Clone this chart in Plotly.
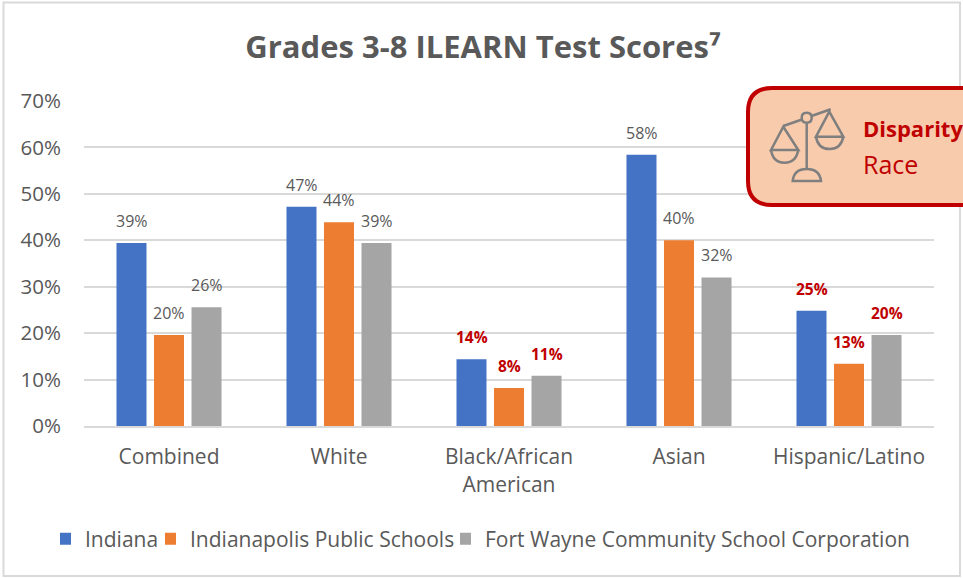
import plotly.graph_objects as go

W, H = 963, 578
PL, PR, PT, PB = 84, 934, 101, 426

categories = ["Combined", "White", "Black/African<br>American", "Asian", "Hispanic/Latino"]
indiana = [39.4, 47.2, 14.4, 58.4, 24.8]
ips = [19.6, 43.9, 8.2, 40.0, 13.4]
fort_wayne = [25.6, 39.4, 10.8, 32.0, 19.6]
indiana_labels = ["39%", "47%", "14%", "58%", "25%"]
ips_labels = ["20%", "44%", "8%", "40%", "13%"]
fort_wayne_labels = ["26%", "39%", "11%", "32%", "20%"]
highlighted = ["Black/African<br>American", "Hispanic/Latino"]
y_ticks = [0, 10, 20, 30, 40, 50, 60, 70]

FONT = "Open Sans"
GREY = "#595959"
RED = "#C00000"
ICON = "#7F7F7F"


def px(x):
    return (x - PL) / (PR - PL)


def py(y):
    return (PB - y) / (PB - PT)


def path(*cmds):
    out = []
    for c in cmds:
        if isinstance(c, str):
            out.append(c)
        else:
            out.append(f"{px(c[0]):.5f},{py(c[1]):.5f}")
    return " ".join(out)


fig = go.Figure()
series = [
    ("Indiana", indiana, indiana_labels, "#4472C4", -37.5, "legend", 60),
    ("Indianapolis Public Schools", ips, ips_labels, "#ED7D31", 0, "legend2", 165),
    ("Fort Wayne Community School Corporation", fort_wayne, fort_wayne_labels, "#A5A5A5", 37.5, "legend3", 460),
]
annotations = []
legends = {}
for name, vals, labels, color, shift, leg, leg_x in series:
    fig.add_trace(go.Bar(name=name, x=categories, y=vals, marker=dict(color=color, line_width=0),
                         hoverinfo="skip", legend=leg, showlegend=True))
    legends[leg] = dict(orientation="h", x=px(leg_x), xanchor="left", y=py(539), yanchor="middle",
                        font=dict(family=FONT, size=21, color=GREY), itemclick=False,
                        itemdoubleclick=False, bgcolor="rgba(0,0,0,0)", indentation=-15)
    for cat, v, lab in zip(categories, vals, labels):
        hi = cat in highlighted
        annotations.append(dict(
            x=cat, y=v, xref="x", yref="y", text=f"<b>{lab}</b>" if hi else lab,
            showarrow=False, xshift=shift, yshift=22, yanchor="middle", xanchor="center",
            font=dict(family=FONT, size=15.5 if hi else 16, color=RED if hi else GREY),
        ))

# Callout text
annotations += [
    dict(xref="paper", yref="paper", x=px(861), y=py(128), text="<b>Disparity</b>", showarrow=False,
         xanchor="left", yanchor="middle", font=dict(family=FONT, size=22, color=RED)),
    dict(xref="paper", yref="paper", x=px(861), y=py(164), text="Race", showarrow=False,
         xanchor="left", yanchor="middle", font=dict(family=FONT, size=25, color=RED)),
]

shapes = [
    dict(type="rect", xref="paper", yref="paper", x0=px(3.5), x1=px(960), y0=py(2.5), y1=py(576),
         line=dict(color="#D9D9D9", width=2), fillcolor="rgba(0,0,0,0)", layer="below"),
    dict(type="path", xref="paper", yref="paper", layer="above",
         path=path("M", (772, 88), "L", (985, 88), "L", (985, 205), "L", (772, 205),
                   "Q", (748, 205), "", (748, 181), "L", (748, 112), "Q", (748, 88), "", (772, 88), "Z"),
         fillcolor="#F8CBAD", line=dict(color=RED, width=4)),
]
icon_paths = [
    path("M", (783.3, 126), "L", (802, 119.5), "M", (811.5, 116), "L", (830.7, 109.3)),
    path("M", (806.7, 122.7), "L", (806.7, 170)),
    path("M", (801.7, 117.7), "Q", (801.7, 112.7), "", (806.7, 112.7), "Q", (811.7, 112.7), "", (811.7, 117.7),
         "Q", (811.7, 122.7), "", (806.7, 122.7), "Q", (801.7, 122.7), "", (801.7, 117.7), "Z"),
    path("M", (771, 150), "L", (783.3, 126.7), "L", (798.3, 150), "Z"),
    path("M", (771, 150), "Q", (773, 162.7), "", (784.6, 162.7), "Q", (796, 162.7), "", (798.3, 150)),
    path("M", (816, 136.7), "L", (829.3, 111.7), "L", (843.3, 136.7), "Z"),
    path("M", (816, 136.7), "Q", (818, 149), "", (829.6, 149), "Q", (841, 149), "", (843.3, 136.7)),
    path("M", (792.7, 181), "Q", (794, 169), "", (806.7, 169), "Q", (819.5, 169), "", (821, 181), "Z"),
]
for p in icon_paths:
    shapes.append(dict(type="path", xref="paper", yref="paper", layer="above", path=p,
                       line=dict(color=ICON, width=2.5), fillcolor="rgba(0,0,0,0)"))

fig.update_layout(
    width=W, height=H, autosize=False,
    margin=dict(l=PL, r=W - PR, t=PT, b=H - PB, pad=0, autoexpand=False),
    paper_bgcolor="white", plot_bgcolor="white",
    barmode="group", bargap=0.338, bargroupgap=0.2,
    showlegend=True,
    font=dict(family=FONT, color=GREY, size=20),
    title=dict(text="<b>Grades 3-8 ILEARN Test Scores⁷</b>", x=483 / W, xanchor="center",
               y=1 - 47 / H, yanchor="middle", font=dict(family=FONT, size=31, color=GREY)),
    xaxis=dict(type="category", categoryorder="array", categoryarray=categories, showgrid=False,
               showline=True, linecolor="#D9D9D9", linewidth=2, ticks="", ticklabelstandoff=11,
               tickfont=dict(family=FONT, size=21, color=GREY), fixedrange=True, automargin=False),
    yaxis=dict(range=[0, 70], tickvals=y_ticks, ticktext=[f"{t}%" for t in y_ticks], showgrid=True,
               gridcolor="#D9D9D9", gridwidth=2, zeroline=False, ticks="", ticklabelstandoff=22,
               tickfont=dict(family=FONT, size=20.5, color=GREY), fixedrange=True, automargin=False),
    annotations=annotations,
    shapes=shapes,
    hovermode=False,
    **legends,
)

fig.write_html("out.html", config={"displayModeBar": False},
               post_script="document.body.style.margin='0';document.body.style.overflow='hidden';")
